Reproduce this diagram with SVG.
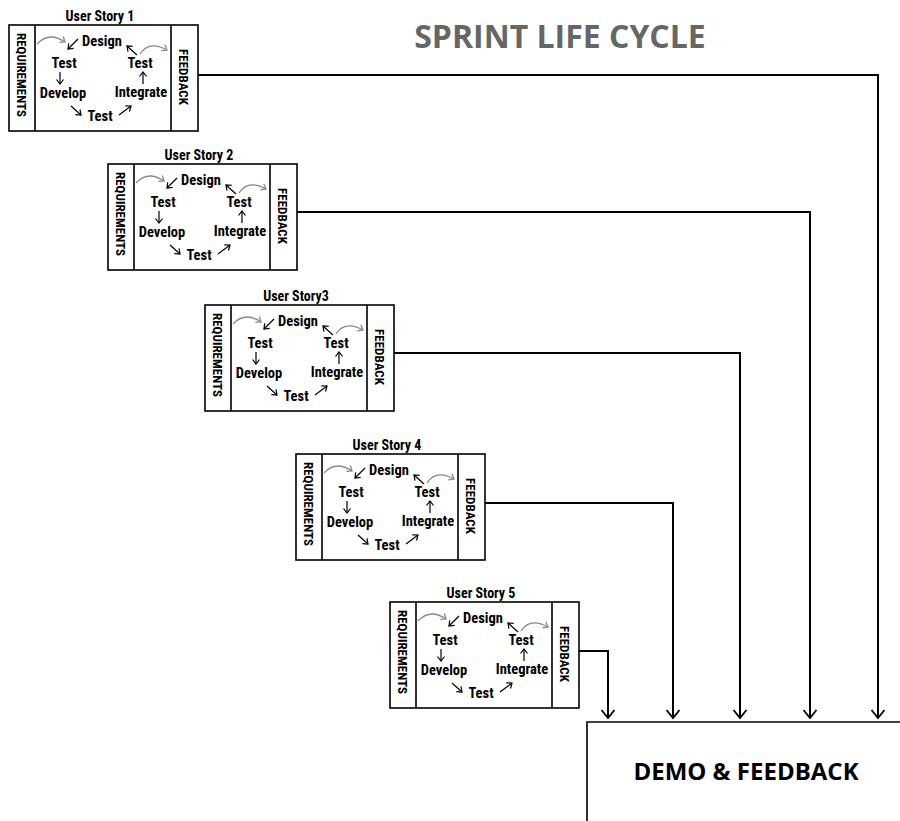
<svg xmlns="http://www.w3.org/2000/svg" width="900" height="821" viewBox="0 0 900 821">
<defs>
<style>
.bg{fill:#fff}
.box{fill:#fff;stroke:#000;stroke-width:1.6}
.div{stroke:#000;stroke-width:1.6;fill:none}
.t{font-family:"Liberation Sans Narrow","Roboto Condensed","DejaVu Sans Condensed",sans-serif;font-weight:bold;font-size:14.5px;fill:#000;text-anchor:middle}
.side{font-family:"Liberation Sans Narrow","Roboto Condensed","DejaVu Sans Condensed",sans-serif;font-weight:bold;font-size:13px;fill:#000;text-anchor:middle}
.ttl{font-family:"Liberation Sans Narrow","Roboto Condensed","DejaVu Sans Condensed",sans-serif;font-weight:bold;font-size:14px;fill:#000;text-anchor:middle}
.ar{stroke:#000;stroke-width:1.2;fill:none;marker-end:url(#sm)}
.gar{stroke:#888;stroke-width:1.3;fill:none;marker-end:url(#gm)}
.conn{stroke:#000;stroke-width:2;fill:none;marker-end:url(#big)}
.head{font-family:"Open Sans","Liberation Sans",sans-serif;font-weight:bold;text-anchor:middle}
</style>
<marker id="sm" viewBox="-6 -5 7 10" refX="0" refY="0" markerWidth="7" markerHeight="10" markerUnits="userSpaceOnUse" orient="auto"><path d="M-4.5,-3.5 L0,0 L-4.5,3.5" fill="none" stroke="#000" stroke-width="1.2"/></marker>
<marker id="gm" viewBox="-6 -5 7 10" refX="0" refY="0" markerWidth="7" markerHeight="10" markerUnits="userSpaceOnUse" orient="auto"><path d="M-4.5,-3.5 L0,0 L-4.5,3.5" fill="none" stroke="#888" stroke-width="1.3"/></marker>
<marker id="big" viewBox="-10 -8 12 16" refX="0" refY="0" markerWidth="12" markerHeight="16" markerUnits="userSpaceOnUse" orient="auto"><path d="M-8,-6.5 L0,0 L-8,6.5" fill="none" stroke="#000" stroke-width="1.8"/></marker>
</defs>
<rect class="bg" x="0" y="0" width="900" height="821"/>

<text class="head" x="560" y="48" font-size="32" fill="#666">SPRINT LIFE CYCLE</text>

<g id="connectors">
<path class="conn" d="M198,75 H878 V718"/>
<path class="conn" d="M297,212 H810 V718"/>
<path class="conn" d="M394,353 H740 V718"/>
<path class="conn" d="M485,503 H673 V718"/>
<path class="conn" d="M579,651 H608 V718"/>
</g>

<g id="demo-feedback">
<path d="M587,821 V722 H900" fill="none" stroke="#000" stroke-width="1.6"/>
<text class="head" x="746" y="780" font-size="24" fill="#000">DEMO &amp; FEEDBACK</text>
</g>

<g id="story1" transform="translate(9,25)">
<text class="ttl" x="91" y="-4">User Story 1</text>
<rect class="box" x="0" y="0" width="189" height="106"/>
<path class="div" d="M26,0 V106 M162,0 V106"/>
<text class="side" transform="translate(13,50) rotate(90)" y="4.7">REQUIREMENTS</text>
<text class="side" transform="translate(175,52) rotate(90)" y="4.7">FEEDBACK</text>
<text class="t" x="93" y="21">Design</text>
<text class="t" x="55" y="43">Test</text>
<text class="t" x="54" y="73">Develop</text>
<text class="t" x="91" y="96">Test</text>
<text class="t" x="132" y="72">Integrate</text>
<text class="t" x="131" y="43">Test</text>
<path class="ar" d="M69,14 L59,24"/>
<path class="ar" d="M51,47 L51,59"/>
<path class="ar" d="M62,81 L72,90"/>
<path class="ar" d="M110,90 L122,81"/>
<path class="ar" d="M134,59 L134,47"/>
<path class="ar" d="M128,30 L118,21"/>
<path class="gar" d="M28,19 Q40,6 56,17"/>
<path class="gar" d="M131,29 Q140,15 158,25"/>
</g>

<g id="story2" transform="translate(108,164)">
<text class="ttl" x="91" y="-4">User Story 2</text>
<rect class="box" x="0" y="0" width="189" height="106"/>
<path class="div" d="M26,0 V106 M162,0 V106"/>
<text class="side" transform="translate(13,50) rotate(90)" y="4.7">REQUIREMENTS</text>
<text class="side" transform="translate(175,52) rotate(90)" y="4.7">FEEDBACK</text>
<text class="t" x="93" y="21">Design</text>
<text class="t" x="55" y="43">Test</text>
<text class="t" x="54" y="73">Develop</text>
<text class="t" x="91" y="96">Test</text>
<text class="t" x="132" y="72">Integrate</text>
<text class="t" x="131" y="43">Test</text>
<path class="ar" d="M69,14 L59,24"/>
<path class="ar" d="M51,47 L51,59"/>
<path class="ar" d="M62,81 L72,90"/>
<path class="ar" d="M110,90 L122,81"/>
<path class="ar" d="M134,59 L134,47"/>
<path class="ar" d="M128,30 L118,21"/>
<path class="gar" d="M28,19 Q40,6 56,17"/>
<path class="gar" d="M131,29 Q140,15 158,25"/>
</g>

<g id="story3" transform="translate(205,305)">
<text class="ttl" x="91" y="-4">User Story3</text>
<rect class="box" x="0" y="0" width="189" height="106"/>
<path class="div" d="M26,0 V106 M162,0 V106"/>
<text class="side" transform="translate(13,50) rotate(90)" y="4.7">REQUIREMENTS</text>
<text class="side" transform="translate(175,52) rotate(90)" y="4.7">FEEDBACK</text>
<text class="t" x="93" y="21">Design</text>
<text class="t" x="55" y="43">Test</text>
<text class="t" x="54" y="73">Develop</text>
<text class="t" x="91" y="96">Test</text>
<text class="t" x="132" y="72">Integrate</text>
<text class="t" x="131" y="43">Test</text>
<path class="ar" d="M69,14 L59,24"/>
<path class="ar" d="M51,47 L51,59"/>
<path class="ar" d="M62,81 L72,90"/>
<path class="ar" d="M110,90 L122,81"/>
<path class="ar" d="M134,59 L134,47"/>
<path class="ar" d="M128,30 L118,21"/>
<path class="gar" d="M28,19 Q40,6 56,17"/>
<path class="gar" d="M131,29 Q140,15 158,25"/>
</g>

<g id="story4" transform="translate(296,454)">
<text class="ttl" x="91" y="-4">User Story 4</text>
<rect class="box" x="0" y="0" width="189" height="106"/>
<path class="div" d="M26,0 V106 M162,0 V106"/>
<text class="side" transform="translate(13,50) rotate(90)" y="4.7">REQUIREMENTS</text>
<text class="side" transform="translate(175,52) rotate(90)" y="4.7">FEEDBACK</text>
<text class="t" x="93" y="21">Design</text>
<text class="t" x="55" y="43">Test</text>
<text class="t" x="54" y="73">Develop</text>
<text class="t" x="91" y="96">Test</text>
<text class="t" x="132" y="72">Integrate</text>
<text class="t" x="131" y="43">Test</text>
<path class="ar" d="M69,14 L59,24"/>
<path class="ar" d="M51,47 L51,59"/>
<path class="ar" d="M62,81 L72,90"/>
<path class="ar" d="M110,90 L122,81"/>
<path class="ar" d="M134,59 L134,47"/>
<path class="ar" d="M128,30 L118,21"/>
<path class="gar" d="M28,19 Q40,6 56,17"/>
<path class="gar" d="M131,29 Q140,15 158,25"/>
</g>

<g id="story5" transform="translate(390,602)">
<text class="ttl" x="91" y="-4">User Story 5</text>
<rect class="box" x="0" y="0" width="189" height="106"/>
<path class="div" d="M26,0 V106 M162,0 V106"/>
<text class="side" transform="translate(13,50) rotate(90)" y="4.7">REQUIREMENTS</text>
<text class="side" transform="translate(175,52) rotate(90)" y="4.7">FEEDBACK</text>
<text class="t" x="93" y="21">Design</text>
<text class="t" x="55" y="43">Test</text>
<text class="t" x="54" y="73">Develop</text>
<text class="t" x="91" y="96">Test</text>
<text class="t" x="132" y="72">Integrate</text>
<text class="t" x="131" y="43">Test</text>
<path class="ar" d="M69,14 L59,24"/>
<path class="ar" d="M51,47 L51,59"/>
<path class="ar" d="M62,81 L72,90"/>
<path class="ar" d="M110,90 L122,81"/>
<path class="ar" d="M134,59 L134,47"/>
<path class="ar" d="M128,30 L118,21"/>
<path class="gar" d="M28,19 Q40,6 56,17"/>
<path class="gar" d="M131,29 Q140,15 158,25"/>
</g>
</svg>
